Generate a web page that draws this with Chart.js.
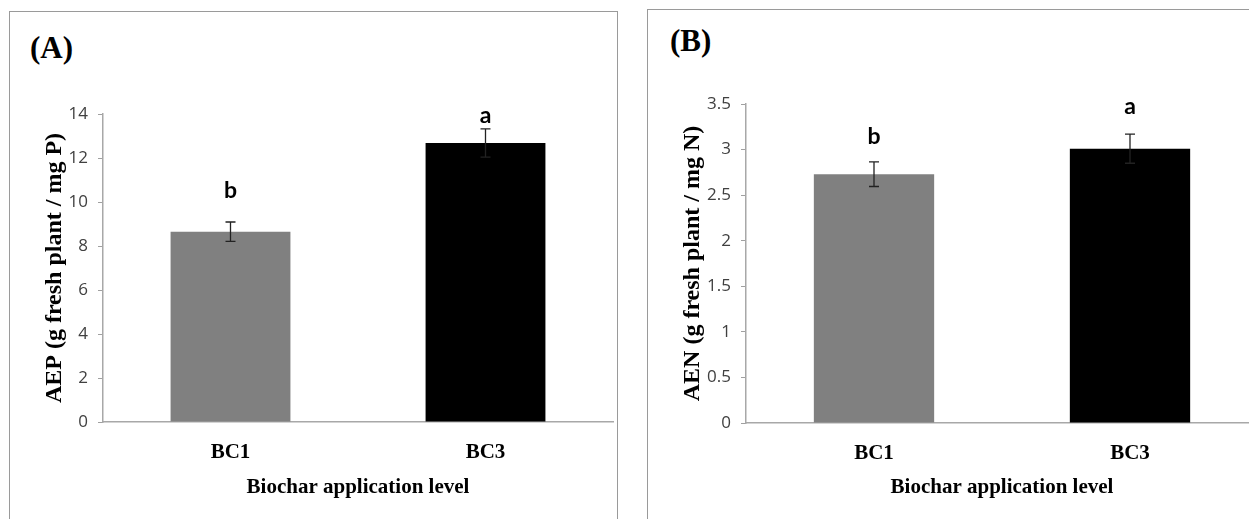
<!DOCTYPE html>
<html>
<head>
<meta charset="utf-8">
<script src="https://cdn.jsdelivr.net/npm/chart.js@4.4.0/dist/chart.umd.min.js"></script>
<style>
  html, body { margin: 0; padding: 0; background: #fff; width: 1249px; height: 519px; overflow: hidden; }
  .panel { position: absolute; border: 1.5px solid #9a9a9a; border-bottom: none; box-sizing: border-box; }
  .tag { position: absolute; font: bold 31px "Liberation Serif", serif; line-height: 31px; color: #000; }
  .wrap { position: absolute; top: 0; height: 519px; }
</style>
</head>
<body>
<div class="panel" style="left:9px; top:11px; width:609px; height:520px;"></div>
<div class="panel" style="left:647px; top:9px; width:640px; height:520px;"></div>
<div class="tag" style="left:30px; top:32px;">(A)</div>
<div class="tag" style="left:670px; top:25px;">(B)</div>
<div class="wrap" style="left:0px; width:620px;"><canvas id="chartA"></canvas></div>
<div class="wrap" style="left:620px; width:650px;"><canvas id="chartB"></canvas></div>
<script>
// values
const categories = ['BC1', 'BC3'];
const barColors = ['#808080', '#000000'];

const aepValues = [8.65, 12.68];
const aepErrors = [0.44, 0.64];
const aepLetters = ['b', 'a'];
const aepLetterAt = [10.5, 13.95];

const aenValues = [2.73, 3.01];
const aenErrors = [0.135, 0.16];
const aenLetters = ['b', 'a'];
const aenLetterAt = [3.14, 3.47];

// error bars + significance letters
const errorBarsPlugin = {
    id: 'errorBars',
    afterDatasetsDraw(chart, args, opts) {
        const ctx = chart.ctx;
        const yScale = chart.scales.y;
        const meta = chart.getDatasetMeta(0);
        const values = chart.data.datasets[0].data;
        ctx.save();
        meta.data.forEach((bar, i) => {
            const top = yScale.getPixelForValue(values[i] + opts.errors[i]);
            const bot = yScale.getPixelForValue(values[i] - opts.errors[i]);
            ctx.strokeStyle = '#222';
            ctx.lineWidth = 1.3;
            ctx.beginPath();
            ctx.moveTo(bar.x, top); ctx.lineTo(bar.x, bot);
            ctx.moveTo(bar.x - 5, top); ctx.lineTo(bar.x + 5, top);
            ctx.moveTo(bar.x - 5, bot); ctx.lineTo(bar.x + 5, bot);
            ctx.stroke();

            ctx.fillStyle = '#000';
            ctx.font = 'bold 23px Lato, sans-serif';
            ctx.textAlign = 'center';
            ctx.textBaseline = 'middle';
            ctx.fillText(opts.letters[i], bar.x, yScale.getPixelForValue(opts.letterAt[i]));
        });
        ctx.restore();
    }
};

function makeChart(canvasId, values, yTitle, yMax, yStep, errors, letters, letterAt, geo) {
    return new Chart(document.getElementById(canvasId), {
        type: 'bar',
        data: {
            labels: categories,
            datasets: [{
                data: values,
                backgroundColor: barColors,
                borderWidth: 0,
                barPercentage: 0.47,
                categoryPercentage: 1.0
            }]
        },
        options: {
            responsive: true,
            maintainAspectRatio: false,
            animation: false,
            layout: { padding: { left: 0, right: geo.right, top: geo.top, bottom: 0 } },
            plugins: {
                legend: { display: false },
                tooltip: { enabled: false },
                errorBars: { errors: errors, letters: letters, letterAt: letterAt }
            },
            scales: {
                x: {
                    afterFit: (s) => { s.height = geo.xHeight; },
                    grid: { display: false, drawTicks: false },
                    border: { display: true, color: '#a8a8a8', width: 1.5 },
                    ticks: {
                        padding: 18,
                        color: '#000',
                        font: { family: 'Liberation Serif', size: 21, weight: 'bold' }
                    },
                    title: {
                        display: true,
                        text: 'Biochar application level',
                        color: '#000',
                        font: { family: 'Liberation Serif', size: 21, weight: 'bold' },
                        padding: { top: 0, bottom: 19 }
                    }
                },
                y: {
                    min: 0,
                    max: yMax,
                    afterFit: (s) => { s.width = geo.yWidth; },
                    grid: { drawOnChartArea: false, drawTicks: true, tickLength: 5, color: '#a0a0a0' },
                    border: { display: true, color: '#a8a8a8', width: 1.5 },
                    ticks: {
                        stepSize: yStep,
                        padding: 10,
                        color: '#404040',
                        font: { family: 'Open Sans', size: 17 },
                        callback: (v) => String(v)
                    },
                    title: {
                        display: true,
                        text: yTitle,
                        color: '#000',
                        font: { family: 'Liberation Serif', size: 24, weight: 'bold' },
                        padding: { top: geo.yTitlePad, bottom: 0 }
                    }
                }
            }
        },
        plugins: [errorBarsPlugin]
    });
}

makeChart('chartA', aepValues, 'AEP (g fresh plant / mg P)', 14, 2,
    aepErrors, aepLetters, aepLetterAt,
    { right: 7, top: 114, xHeight: 97, yWidth: 103, yTitlePad: 40 });

makeChart('chartB', aenValues, 'AEN (g fresh plant / mg N)', 3.5, 0.5,
    aenErrors, aenLetters, aenLetterAt,
    { right: 12, top: 104, xHeight: 96, yWidth: 126, yTitlePad: 58 });
</script>
</body>
</html>
